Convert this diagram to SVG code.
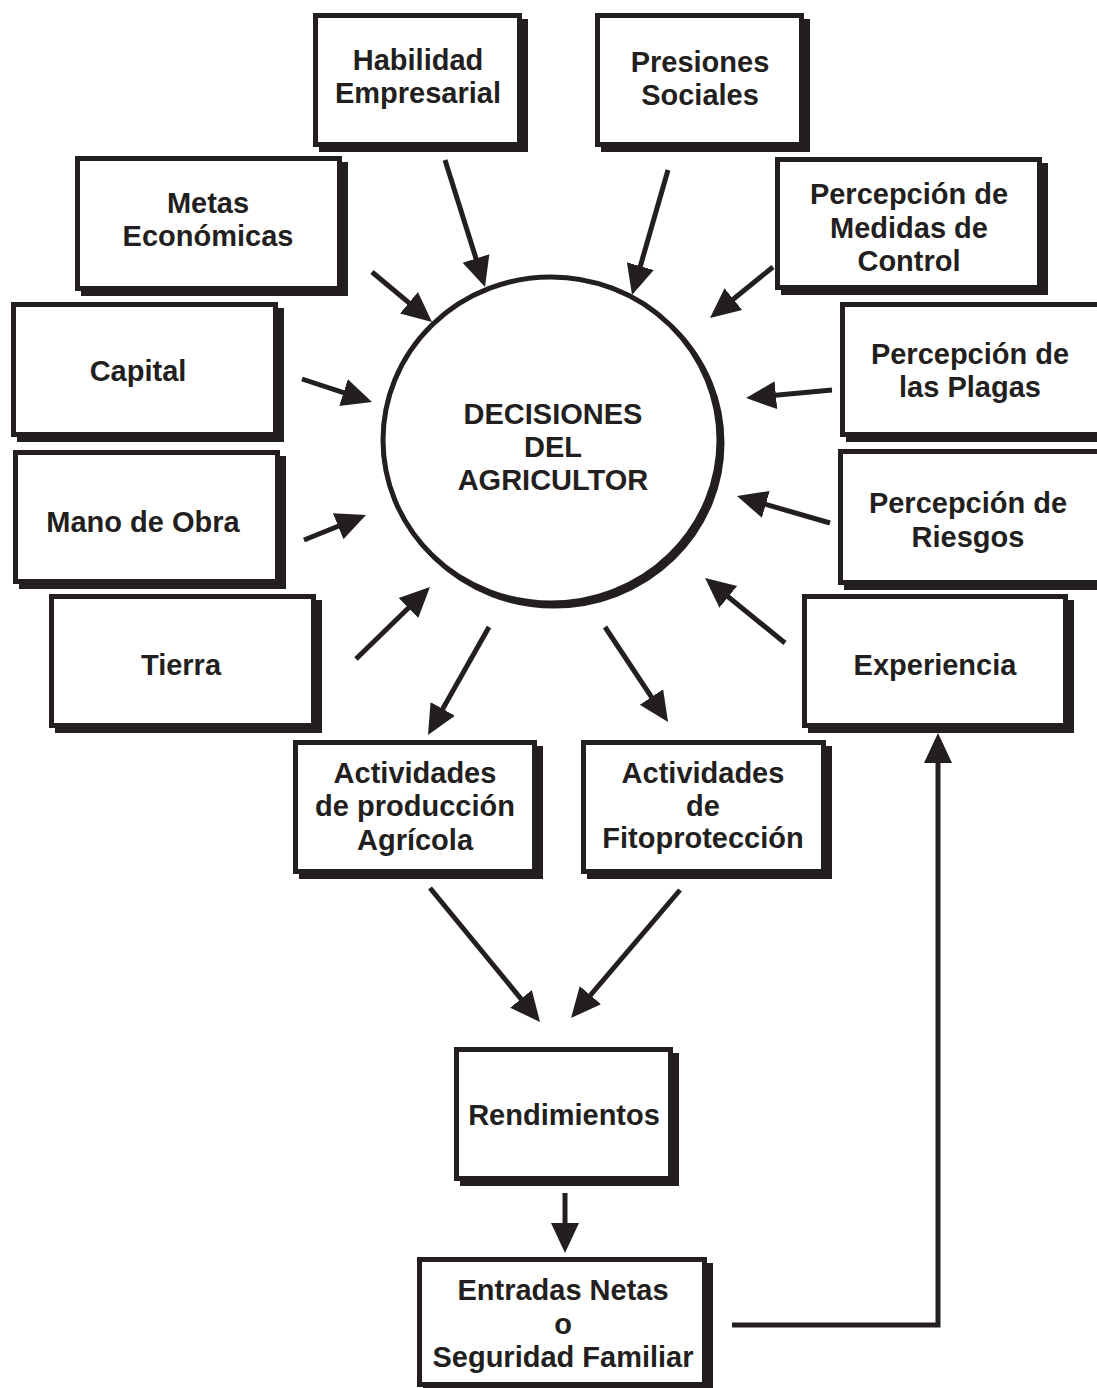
<svg xmlns="http://www.w3.org/2000/svg" width="1097" height="1388" viewBox="0 0 1097 1388">
  <style>
    .box { fill: #ffffff; stroke: #231f20; stroke-width: 5; }
    .shadow { fill: #231f20; }
    .label { font-family: "Liberation Sans", Arial, sans-serif; font-weight: bold; font-size: 29px; fill: #231f20; text-anchor: middle; }
    .conn { fill: none; stroke: #231f20; stroke-width: 5; marker-end: url(#head); }
  </style>
  <defs>
    <marker id="head" markerUnits="userSpaceOnUse" viewBox="0 0 30 30" markerWidth="30" markerHeight="30" refX="20" refY="15" orient="auto">
      <path d="M0,1 L30,15 L0,29 Z" fill="#231f20"/>
    </marker>
  </defs>
  <rect width="1097" height="1388" fill="#ffffff"/>

  <!-- central decision node -->
  <g id="decisiones">
    <ellipse cx="554" cy="443" rx="168" ry="163" fill="none" stroke="#231f20" stroke-width="5"/>
    <ellipse cx="551" cy="440" rx="168" ry="163" fill="#ffffff" stroke="#231f20" stroke-width="5"/>
    <text class="label" x="553" y="424">DECISIONES</text>
    <text class="label" x="553" y="457">DEL</text>
    <text class="label" x="553" y="490">AGRICULTOR</text>
  </g>

  <!-- factor boxes: black offset shadow + white framed box -->
  <g id="habilidad">
    <rect class="shadow" x="319" y="19" width="209" height="133"/>
    <rect class="box" x="315.5" y="15.5" width="204" height="129"/>
    <text class="label" x="418" y="70">Habilidad</text>
    <text class="label" x="418" y="103">Empresarial</text>
  </g>
  <g id="presiones">
    <rect class="shadow" x="601" y="19" width="209" height="133"/>
    <rect class="box" x="597.5" y="15.5" width="204" height="129"/>
    <text class="label" x="700" y="72">Presiones</text>
    <text class="label" x="700" y="105">Sociales</text>
  </g>
  <g id="metas">
    <rect class="shadow" x="81" y="162" width="267" height="134"/>
    <rect class="box" x="77.5" y="158.5" width="262" height="130"/>
    <text class="label" x="208" y="213">Metas</text>
    <text class="label" x="208" y="246">Económicas</text>
  </g>
  <g id="medidas">
    <rect class="shadow" x="781" y="163" width="267" height="132"/>
    <rect class="box" x="777.5" y="159.5" width="262" height="128"/>
    <text class="label" x="909" y="204">Percepción de</text>
    <text class="label" x="909" y="238">Medidas de</text>
    <text class="label" x="909" y="271">Control</text>
  </g>
  <g id="capital">
    <rect class="shadow" x="17" y="308" width="267" height="134"/>
    <rect class="box" x="13.5" y="304.5" width="262" height="130"/>
    <text class="label" x="138" y="381">Capital</text>
  </g>
  <g id="plagas">
    <rect class="shadow" x="846" y="308" width="260" height="134"/>
    <rect class="box" x="842.5" y="304.5" width="260" height="130"/>
    <text class="label" x="970" y="364">Percepción de</text>
    <text class="label" x="970" y="397">las Plagas</text>
  </g>
  <g id="mano">
    <rect class="shadow" x="19" y="456" width="267" height="133"/>
    <rect class="box" x="15.5" y="452.5" width="262" height="129"/>
    <text class="label" x="143" y="532">Mano de Obra</text>
  </g>
  <g id="riesgos">
    <rect class="shadow" x="844" y="455" width="260" height="135"/>
    <rect class="box" x="840.5" y="451.5" width="260" height="131"/>
    <text class="label" x="968" y="513">Percepción de</text>
    <text class="label" x="968" y="547">Riesgos</text>
  </g>
  <g id="tierra">
    <rect class="shadow" x="55" y="600" width="267" height="133"/>
    <rect class="box" x="51.5" y="596.5" width="262" height="129"/>
    <text class="label" x="181" y="675">Tierra</text>
  </g>
  <g id="experiencia">
    <rect class="shadow" x="808" y="600" width="266" height="133"/>
    <rect class="box" x="804.5" y="596.5" width="261" height="129"/>
    <text class="label" x="935" y="675">Experiencia</text>
  </g>
  <g id="produccion">
    <rect class="shadow" x="299" y="746" width="244" height="133"/>
    <rect class="box" x="295.5" y="742.5" width="239" height="129"/>
    <text class="label" x="415" y="783">Actividades</text>
    <text class="label" x="415" y="816">de producción</text>
    <text class="label" x="415" y="850">Agrícola</text>
  </g>
  <g id="fitoproteccion">
    <rect class="shadow" x="587" y="746" width="245" height="133"/>
    <rect class="box" x="583.5" y="742.5" width="240" height="129"/>
    <text class="label" x="703" y="783">Actividades</text>
    <text class="label" x="703" y="816">de</text>
    <text class="label" x="703" y="848">Fitoprotección</text>
  </g>
  <g id="rendimientos">
    <rect class="shadow" x="460" y="1053" width="219" height="133"/>
    <rect class="box" x="456.5" y="1049.5" width="214" height="129"/>
    <text class="label" x="564" y="1125">Rendimientos</text>
  </g>
  <g id="entradas">
    <rect class="shadow" x="423" y="1263" width="290" height="130"/>
    <rect class="box" x="419.5" y="1259.5" width="285" height="125"/>
    <text class="label" x="563" y="1300">Entradas Netas</text>
    <text class="label" x="563" y="1334">o</text>
    <text class="label" x="563" y="1367">Seguridad Familiar</text>
  </g>

  <!-- connectors -->
  <g id="connectors">
    <path class="conn" d="M445,160 L482,277.5"/>
    <path class="conn" d="M668,170 L634.8,285.4"/>
    <path class="conn" d="M372,272 L424.3,315.6"/>
    <path class="conn" d="M773,267 L717.8,311.7"/>
    <path class="conn" d="M302,379 L362.5,398.9"/>
    <path class="conn" d="M832,390 L756,397.1"/>
    <path class="conn" d="M304,540 L356.7,518.7"/>
    <path class="conn" d="M830,523 L746.6,498.8"/>
    <path class="conn" d="M356,659 L422.8,594"/>
    <path class="conn" d="M785,643 L712.8,584.3"/>
    <path class="conn" d="M489,627 L432.9,726.3"/>
    <path class="conn" d="M605,627 L662.5,713.7"/>
    <path class="conn" d="M430,888 L533.7,1014.3"/>
    <path class="conn" d="M680,890 L577.5,1010.4"/>
    <path class="conn" d="M565,1193 L565,1243"/>
    <path class="conn" d="M732,1325 L938,1325 L938,743"/>
  </g>
</svg>
